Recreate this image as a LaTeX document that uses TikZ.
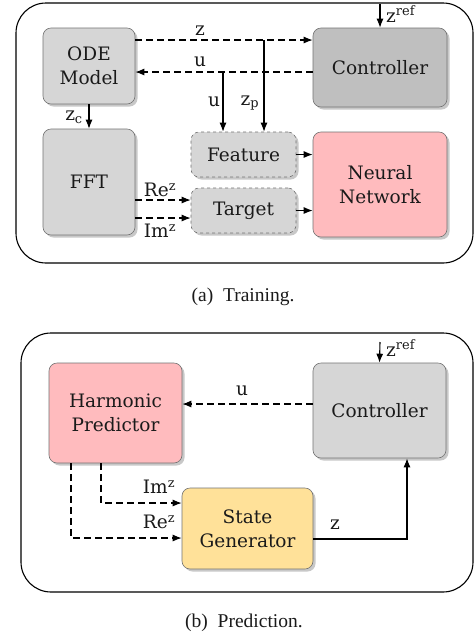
\documentclass[tikz,border=0pt]{standalone}
\usepackage{fontspec}
\setmainfont{DejaVu Serif}
\newfontfamily\capfont{Liberation Serif}
\usetikzlibrary{arrows.meta,shadows}
\definecolor{boxgray}{HTML}{D6D6D6}
\definecolor{darkgray}{HTML}{BFBFBF}
\definecolor{pinkbox}{HTML}{FFBBBE}
\definecolor{yellowbox}{HTML}{FFE199}
\definecolor{txt}{HTML}{1A1A1A}
\begin{document}
\begin{tikzpicture}[x=1pt,y=-1pt,
  box/.style={draw=black!55, line width=0.6pt, rounded corners=8pt, align=center,
    font=\fontsize{18.5}{24}\selectfont, text=txt,
    drop shadow={shadow xshift=2.5pt, shadow yshift=-2.5pt, opacity=0.3, fill=black!70}},
  frame/.style={draw=black, line width=1.1pt, rounded corners=30pt},
  lab/.style={font=\fontsize{18.5}{20}\selectfont, text=txt, inner sep=0pt},
  captext/.style={font=\capfont\fontsize{19.5}{22}\selectfont, text=txt, inner sep=0pt},
  conn/.style={line width=1.1pt, -{Latex[length=9pt,width=7pt]}},
  dconn/.style={conn, dash pattern=on 6.5pt off 4.5pt}
]
\useasboundingbox[fill=white] (0,0) rectangle (475,638);

% ---------- (a) Training ----------
\draw[frame] (16,3) rectangle (473,263);

\node[box, fill=boxgray, minimum width=92pt, minimum height=76pt] (ode) at (89,66) {ODE\\Model};
\node[box, fill=darkgray, minimum width=134pt, minimum height=79pt] (ctrla) at (380,67.5) {Controller};
\node[box, fill=boxgray, minimum width=92pt, minimum height=106pt] (fft) at (89,182) {FFT};
\node[box, fill=boxgray, dashed, minimum width=105pt, minimum height=45pt] (feat) at (243.5,154.5) {Feature};
\node[box, fill=boxgray, dashed, minimum width=105pt, minimum height=45pt] (targ) at (243.5,210.5) {Target};
\node[box, fill=pinkbox, minimum width=134pt, minimum height=105pt] (nn) at (380,184.5) {Neural\\Network};

\coordinate (zrefa) at (380,4);
\draw[conn] (zrefa) -- (ctrla.north);
\node[lab, anchor=west] (zrefla) at (386,14) {z\textsuperscript{ref}};

\draw[dconn] ([yshift=26pt]ode.east) coordinate (zs) -- (zs -| ctrla.west);
\draw[dconn] ([yshift=-4.5pt]ctrla.west) coordinate (us) -- (us -| ode.east);
\coordinate (zpb) at (264,40);
\coordinate (ub) at (223,72);
\draw[conn] (zpb) -- (zpb |- feat.north);
\draw[conn] (ub) -- (ub |- feat.north);
\node[lab] (zl) at (200,31) {z};
\node[lab] (ul) at (200,62) {u};
\node[lab] (ul2) at (214,102) {u};
\node[lab] (zpl) at (250,103) {z\textsubscript{p}};

\draw[conn] (ode.south) -- (fft.north);
\node[lab] (zcl) at (74,117) {z\textsubscript{c}};

\draw[dconn] ([yshift=-18pt]fft.east) coordinate (res) -- (res -| targ.west);
\draw[dconn] ([yshift=-36pt]fft.east) coordinate (ims) -- (ims -| targ.west);
\node[lab] (rel) at (160,190) {Re\textsuperscript{z}};
\node[lab] (iml) at (160,231) {Im\textsuperscript{z}};

\draw[conn] (feat.east) -- (feat.east -| nn.west);
\draw[conn] (targ.east) -- (targ.east -| nn.west);

\node[captext] (capa) at (243,297) {(a)\ \ Training.};

% ---------- (b) Prediction ----------
\draw[frame] (21,333) rectangle (473,592);

\node[box, fill=pinkbox, minimum width=133pt, minimum height=100pt] (hp) at (115.5,413) {Harmonic\\Predictor};
\node[box, fill=boxgray, minimum width=133pt, minimum height=95pt] (ctrlb) at (379.5,410.5) {Controller};
\node[box, fill=yellowbox, minimum width=131pt, minimum height=81pt] (sg) at (247.5,528.5) {State\\Generator};

\coordinate (zrefb) at (380,342);
\draw[conn] (zrefb) -- (ctrlb.north);
\node[lab, anchor=west] (zreflb) at (386,348) {z\textsuperscript{ref}};

\draw[dconn] ([yshift=6.5pt]ctrlb.west) coordinate (ub2) -- (ub2 -| hp.east);
\node[lab] (ulb) at (242,391) {u};

\coordinate (imt) at (101,463);
\coordinate (ret) at (71,463);
\draw[dconn] (imt) |- ([yshift=25.5pt]sg.west);
\draw[dconn] (ret) |- ([yshift=-9.5pt]sg.west);
\node[lab] (imlb) at (159,487) {Im\textsuperscript{z}};
\node[lab] (relb) at (159,522) {Re\textsuperscript{z}};

\coordinate (zcorner) at (407,539);
\draw[conn] ([yshift=-10.5pt]sg.east) -- (zcorner) -- (zcorner |- ctrlb.south);
\node[lab] (zlb) at (335,525) {z};

\node[captext] (capb) at (244,623) {(b)\ \ Prediction.};
\end{tikzpicture}
\end{document}
